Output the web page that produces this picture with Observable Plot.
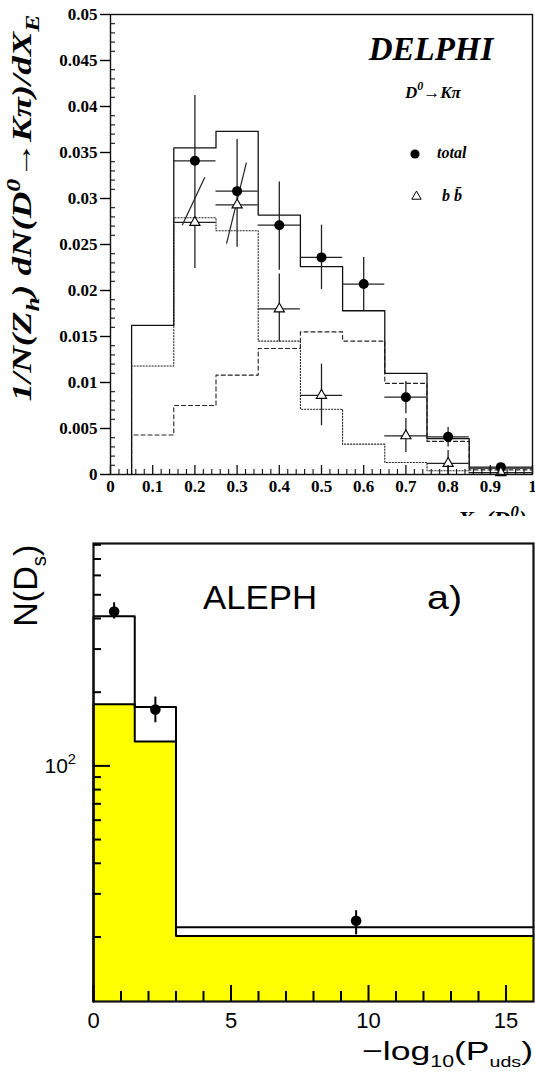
<!DOCTYPE html>
<html><head><meta charset="utf-8">
<script src="https://cdn.jsdelivr.net/npm/d3@7"></script>
<script src="https://cdn.jsdelivr.net/npm/@observablehq/plot@0.6"></script>
<style>
body{margin:0;background:#fff;}
#wrap{position:relative;width:535px;height:1074px;overflow:hidden;background:#fff;}
#top{position:absolute;left:0;top:0;}
#bot{position:absolute;left:0;top:516px;}
svg{overflow:hidden;}
</style></head><body><div id="wrap"><div id="top"></div><div id="bot"></div></div>
<script>
// ===== DELPHI panel (top) =====
const binEdges = [0.05, 0.15, 0.25, 0.35, 0.45, 0.55, 0.65, 0.75, 0.85, 1.0];
const totalMC  = [0.0162, 0.0355, 0.0373, 0.0282, 0.0226, 0.0178, 0.0110, 0.0039, 0.0007];
const bbMC     = [0.0118, 0.0279, 0.0265, 0.0145, 0.0071, 0.0033, 0.0013, 0.0004, 0.0002];
const ccMC     = [0.0043, 0.0075, 0.0108, 0.0137, 0.0155, 0.0145, 0.0099, 0.0036, 0.0005];

const totalX   = [0.2, 0.3, 0.4, 0.5, 0.6, 0.7, 0.8, 0.925];
const totalY   = [0.0341, 0.0308, 0.0271, 0.0236, 0.0207, 0.0084, 0.0041, 0.0008];
const totalLo  = [0.0224, 0.0247, 0.0222, 0.0201, 0.0177, 0.0066, 0.0030, 0.0005];
const totalHi  = [0.0412, 0.0364, 0.0318, 0.0271, 0.0236, 0.0101, 0.0051, 0.0011];
const totalXLo = [0.15, 0.25, 0.35, 0.45, 0.55, 0.65, 0.75, 0.85];
const totalXHi = [0.25, 0.35, 0.45, 0.55, 0.65, 0.75, 0.85, 1.0];

const bbX   = [0.2, 0.3, 0.4, 0.5, 0.7, 0.8, 0.925];
const bbY   = [0.0274, 0.0293, 0.0180, 0.0086, 0.0042, 0.0012, 0.0002];
const bbLo  = [null, null, 0.0144, 0.0053, 0.0024, 0.0, 0.0];
const bbHi  = [null, null, 0.0218, 0.0120, 0.0061, 0.0026, 0.0004];
const bbXLo = [0.15, 0.25, 0.35, 0.45, 0.65, 0.75, 0.85];
const bbXHi = [0.25, 0.35, 0.45, 0.55, 0.75, 0.85, 1.0];

// slanted error strokes seen around x = 0.2 and 0.3
const slantX1 = [0.170, 0.275];
const slantY1 = [0.0271, 0.0251];
const slantX2 = [0.2235, 0.322];
const slantY2 = [0.0323, 0.0339];

const topYTicks = [0, 0.005, 0.01, 0.015, 0.02, 0.025, 0.03, 0.035, 0.04, 0.045, 0.05];
const topXTicks = [0, 0.1, 0.2, 0.3, 0.4, 0.5, 0.6, 0.7, 0.8, 0.9, 1];

// ===== ALEPH panel (bottom) =====
const dsEdges   = [0, 1.5, 3, 16];
const dsTotal   = [409, 174, 21.9];
const dsYellow  = [178.6, 125.7, 20.2];
const dsPtX     = [0.75, 2.25, 9.55];
const dsPtY     = [427, 170, 23.3];
const dsPtLo    = [398, 150, 20.4];
const dsPtHi    = [464, 191, 25.6];
const botXTicks = [0, 5, 10, 15];
const botYMajor = [100];
const botYMinor = [20, 30, 40, 50, 60, 70, 80, 90, 200, 300, 400, 500, 600, 700, 800];
const botYDomain = [10.9, 810];

// ---------- helpers ----------
function steps(edges, vals, base) {
  const pts = [{x: edges[0], y: base}];
  vals.forEach((v, i) => { pts.push({x: edges[i], y: v}); pts.push({x: edges[i + 1], y: v}); });
  return pts;
}
function rich(svg, o) {
  const t = d3.select(svg).append("text")
    .attr("transform", `translate(${o.x},${o.y}) rotate(${o.rotate || 0})`)
    .attr("text-anchor", o.anchor || "start")
    .attr("font-size", o.size)
    .attr("font-weight", o.weight || "normal").attr("font-style", o.style || "normal")
    .style("font-family", o.family)
    .attr("fill", "black");
  if (o.textLength) t.attr("textLength", o.textLength).attr("lengthAdjust", "spacingAndGlyphs");
  let cur = 0;
  for (const [txt, shift = 0, scale = 1] of o.parts) {
    const off = shift * o.size;
    t.append("tspan").attr("dy", off - cur).attr("font-size", o.size * scale).text(txt);
    cur = off;
  }
  return t;
}

// ---------- TOP ----------
const TW = 535, TH = 516, TL = 110, TR = 3, TT = 14, TB = 42;
const tPlotW = TW - TL - TR, tPlotH = TH - TT - TB;
const circles = totalX.map((x, i) => ({x, y: totalY[i], lo: totalLo[i], hi: totalHi[i], xl: totalXLo[i], xr: totalXHi[i]}));
const tris = bbX.map((x, i) => ({x, y: bbY[i], lo: bbLo[i], hi: bbHi[i], xl: bbXLo[i], xr: bbXHi[i]}));
const slants = slantX1.map((x1, i) => ({x1, y1: slantY1[i], x2: slantX2[i], y2: slantY2[i]}));
const yMinorTop = d3.range(0, 51).map(k => k / 1000).filter((v, k) => k % 5 !== 0);
const xMinorTop = d3.range(0, 51).map(k => k / 50).filter((v, k) => k % 5 !== 0);
const serif = "'Liberation Serif', 'Times New Roman', Times, serif";

const topChart = Plot.plot({
  width: TW, height: TH, marginLeft: TL, marginRight: TR, marginTop: TT, marginBottom: TB,
  x: {domain: [0, 1]},
  y: {domain: [0, 0.05]},
  style: {fontFamily: serif, fontWeight: "bold", fontSize: "17px", color: "black", background: "white"},
  marks: [
    Plot.line(steps(binEdges, bbMC, 0), {x: "x", y: "y", stroke: "#222", strokeWidth: 1.1, strokeDasharray: "1.2,1.8"}),
    Plot.line(steps(binEdges, ccMC, 0), {x: "x", y: "y", stroke: "#222", strokeWidth: 1.1, strokeDasharray: "4,3"}),
    Plot.line(steps(binEdges, totalMC, 0), {x: "x", y: "y", stroke: "#111", strokeWidth: 1.3}),
    Plot.ruleX(circles, {x: "x", y1: "lo", y2: "hi", stroke: "#222", strokeWidth: 1.3}),
    Plot.ruleY(circles, {y: "y", x1: "xl", x2: "xr", stroke: "#222", strokeWidth: 1.3}),
    Plot.ruleX(tris.filter(d => d.lo != null), {x: "x", y1: "lo", y2: "hi", stroke: "#222", strokeWidth: 1.3}),
    Plot.ruleY(tris, {y: "y", x1: "xl", x2: "xr", stroke: "#222", strokeWidth: 1.3}),
    Plot.link(slants, {x1: "x1", y1: "y1", x2: "x2", y2: "y2", stroke: "#222", strokeWidth: 1.2}),
    Plot.dot(circles, {x: "x", y: "y", r: 5, fill: "black", stroke: "none"}),
    Plot.dot(tris, {x: "x", y: "y", r: 3.8, symbol: "triangle", fill: "white", stroke: "black", strokeWidth: 1.1}),
    Plot.frame({stroke: "#111", strokeWidth: 1.4}),
    Plot.axisY(topYTicks, {tickSize: 10, tickPadding: 3, tickFormat: d => String(d), label: null, strokeWidth: 1.4}),
    Plot.tickY(yMinorTop, {y: d => d, insetRight: tPlotW - 5, stroke: "#111", strokeWidth: 1.1}),
    Plot.axisX(topXTicks, {tickSize: 0, tickPadding: 5, tickFormat: d => String(d), label: null}),
    Plot.tickX(xMinorTop, {x: d => d, insetTop: tPlotH - 5, stroke: "#111", strokeWidth: 1.1}),
    Plot.tickX(topXTicks, {x: d => d, insetTop: tPlotH - 9, stroke: "#111", strokeWidth: 1.3})
  ]
});
document.getElementById("top").appendChild(topChart);
const ts = topChart;
rich(ts, {x: 31, y: 208, rotate: -90, anchor: "middle", size: 27, family: serif, weight: "bold", style: "italic", textLength: 387,
  parts: [["1/N(Z"], ["h", 0.3, 0.7], [") dN(D"], ["0", -0.4, 0.7], ["\u2192K\u03c0)/dX"], ["E", 0.3, 0.7]]});
rich(ts, {x: 527, y: 527, anchor: "end", size: 24, family: serif, weight: "bold", style: "italic",
  parts: [["X"], ["E", 0.3, 0.7], ["(D"], ["0", -0.4, 0.7], [")"]]});
rich(ts, {x: 431, y: 60, anchor: "middle", size: 33, family: serif, weight: "bold", style: "italic", parts: [["DELPHI"]]});
rich(ts, {x: 405, y: 98, size: 17, family: serif, weight: "bold", style: "italic",
  parts: [["D"], ["0", -0.45, 0.7], ["\u2192K\u03c0"]]});
rich(ts, {x: 437, y: 158, size: 16, family: serif, weight: "bold", style: "italic", parts: [["total"]]});
rich(ts, {x: 442, y: 201, size: 16, family: serif, weight: "bold", style: "italic", parts: [["b b\u0304"]]});
d3.select(ts).append("circle").attr("cx", 415).attr("cy", 154).attr("r", 4.6).attr("fill", "black");
d3.select(ts).append("path").attr("d", d3.symbol(d3.symbolTriangle, 38)()).attr("transform", "translate(416.5,196.5)")
  .attr("fill", "white").attr("stroke", "black").attr("stroke-width", 1);

// ---------- BOTTOM ----------
const BW = 535, BH = 558, BL = 93, BR = 2, BT = 27, BB = 73;
const bPlotW = BW - BL - BR, bPlotH = BH - BT - BB;
const sans = "'Liberation Sans', Arial, Helvetica, sans-serif";
const yellowPts = dsYellow.map((v, i) => ({x: dsEdges[i], y: v})).concat([{x: dsEdges[dsEdges.length - 1], y: dsYellow[dsYellow.length - 1]}]);
const pts = dsPtX.map((x, i) => ({x, y: dsPtY[i], lo: dsPtLo[i], hi: dsPtHi[i]}));
const xMinorBot = d3.range(1, 16).filter(v => v % 5 !== 0);

const botChart = Plot.plot({
  width: BW, height: BH, marginLeft: BL, marginRight: BR, marginTop: BT, marginBottom: BB,
  x: {domain: [0, 16]},
  y: {type: "log", domain: botYDomain, axis: null},
  style: {fontFamily: sans, fontSize: "22px", color: "black", background: "white"},
  marks: [
    Plot.areaY(yellowPts, {x: "x", y1: () => botYDomain[0], y2: "y", curve: "step-after", fill: "#ffff00"}),
    Plot.line(steps(dsEdges, dsYellow, botYDomain[0]), {x: "x", y: "y", stroke: "black", strokeWidth: 2}),
    Plot.line(steps(dsEdges, dsTotal, botYDomain[0]), {x: "x", y: "y", stroke: "black", strokeWidth: 2}),
    Plot.ruleX(pts, {x: "x", y1: "lo", y2: "hi", stroke: "black", strokeWidth: 2}),
    Plot.dot(pts, {x: "x", y: "y", r: 5.3, fill: "black"}),
    Plot.frame({stroke: "#111", strokeWidth: 2.2}),
    Plot.tickY(botYMinor, {y: d => d, insetRight: bPlotW - 8, stroke: "black", strokeWidth: 2}),
    Plot.tickY(botYMajor, {y: d => d, insetRight: bPlotW - 17, stroke: "black", strokeWidth: 2}),
    Plot.tickX(xMinorBot, {x: d => d, insetTop: bPlotH - 10, stroke: "black", strokeWidth: 2}),
    Plot.tickX(botXTicks, {x: d => d, insetTop: bPlotH - 16, stroke: "black", strokeWidth: 2}),
    Plot.axisX(botXTicks, {tickSize: 0, tickPadding: 11, tickFormat: d => String(d), label: null})
  ]
});
document.getElementById("bot").appendChild(botChart);
const bs = botChart;
rich(bs, {x: 76, y: 257, anchor: "end", size: 21, family: sans, parts: [["10"], ["2", -0.45, 0.7]]});
rich(bs, {x: 37, y: 110.7, rotate: -90, anchor: "start", size: 34, family: sans, textLength: 82,
  parts: [["N(D"], ["s", 0.25, 0.6], [")"]]});
rich(bs, {x: 203, y: 93, size: 34, family: sans, textLength: 114, parts: [["ALEPH"]]});
rich(bs, {x: 427, y: 93, size: 34, family: sans, textLength: 35, parts: [["a)"]]});
rich(bs, {x: 533, y: 544, anchor: "end", size: 26, family: sans, textLength: 171,
  parts: [["\u2212log"], ["10", 0.25, 0.6], ["(P"], ["uds", 0.25, 0.55], [")"]]});
</script>
</body></html>
